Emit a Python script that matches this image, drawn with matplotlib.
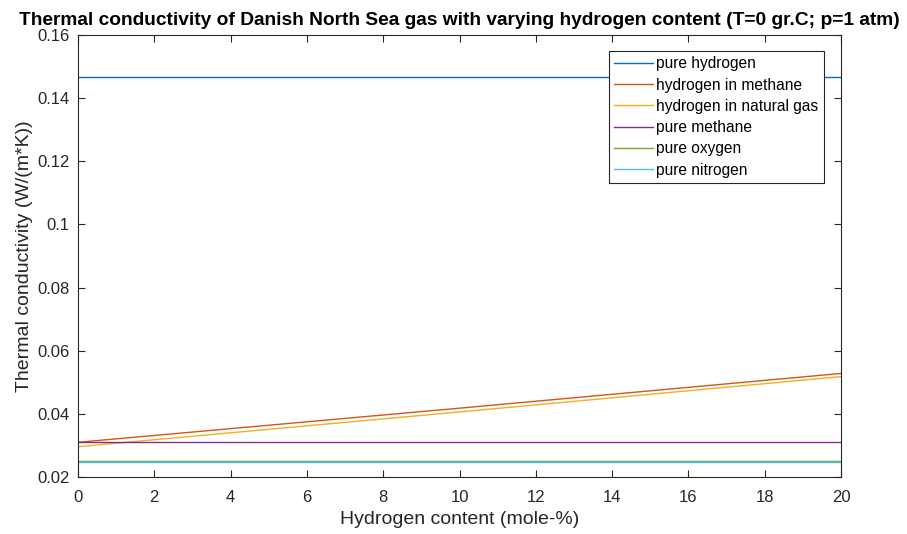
import matplotlib
matplotlib.use('Agg')
import matplotlib.pyplot as plt

plt.rcParams['font.family'] = ['Liberation Sans', 'DejaVu Sans']

# hydrogen content (mole-%)
h2 = [0, 5, 10, 15, 20]

# thermal conductivity W/(m*K)
pure_h2 = [0.1467, 0.1467, 0.1467, 0.1467, 0.1467]
h2_in_ch4 = [0.0310, 0.0364, 0.0418, 0.0473, 0.0528]
h2_in_ng = [0.0296, 0.0351, 0.0406, 0.0462, 0.0518]
pure_ch4 = [0.0310, 0.0310, 0.0310, 0.0310, 0.0310]
pure_o2 = [0.0251, 0.0251, 0.0251, 0.0251, 0.0251]
pure_n2 = [0.0246, 0.0246, 0.0246, 0.0246, 0.0246]

names = ['pure hydrogen', 'hydrogen in methane', 'hydrogen in natural gas',
         'pure methane', 'pure oxygen', 'pure nitrogen']
series = [pure_h2, h2_in_ch4, h2_in_ng, pure_ch4, pure_o2, pure_n2]
colors = ['#0072BD', '#D95319', '#EDB120', '#7E2F8E', '#77AC30', '#4DBEEE']

fig = plt.figure(figsize=(9.07, 5.34), dpi=100)
ax = fig.add_axes([78/907, 1-477/534, (841-78)/907, (477-35)/534])

for y, c, n in zip(series, colors, names):
    ax.plot(h2, y, color=c, lw=1.0, label=n)

ax.set_xlim(0, 20)
ax.set_ylim(0.02, 0.16)
ax.set_xticks(range(0, 21, 2))
ax.set_yticks([0.02, 0.04, 0.06, 0.08, 0.1, 0.12, 0.14, 0.16])
ax.set_yticklabels(['0.02', '0.04', '0.06', '0.08', '0.1', '0.12', '0.14', '0.16'])
ax.tick_params(direction='in', top=True, right=True, labelsize=12, length=5,
               colors='#262626', labelcolor='#262626')
ax.tick_params(axis='x', pad=9)
ax.tick_params(axis='y', pad=6)
for s in ax.spines.values():
    s.set_color('#262626')
    s.set_linewidth(0.8)

ax.set_xlabel('Hydrogen content (mole-%)', fontsize=14, color='#262626', labelpad=5)
ax.set_ylabel('Thermal conductivity (W/(m*K))', fontsize=14, color='#262626', labelpad=3)
ax.set_title('Thermal conductivity of Danish North Sea gas with varying hydrogen content (T=0 gr.C; p=1 atm)',
             fontsize=13.8, fontweight='bold', pad=7)

leg = ax.legend(loc='upper right', bbox_to_anchor=(824/907, 1-51/534),
                bbox_transform=fig.transFigure, fontsize=11.2, fancybox=False,
                edgecolor='#262626', framealpha=1, borderpad=0.35,
                handlelength=2.5, handletextpad=0.2, labelspacing=0.4,
                borderaxespad=0)
leg.get_frame().set_linewidth(0.8)

fig.savefig('out.png', dpi=100)
